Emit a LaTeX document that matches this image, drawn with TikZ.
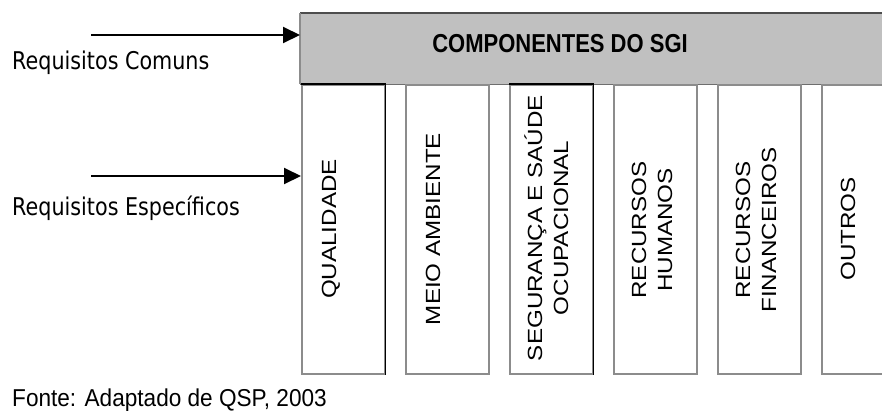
\documentclass[tikz,border=0pt]{standalone}
\usepackage{fontspec}
\setmainfont{Liberation Sans}
\newfontfamily\reqfont{DejaVu Sans}
\usetikzlibrary{arrows.meta}
\definecolor{hdrfill}{HTML}{C0C0C0}
\definecolor{hdrtop}{HTML}{4D4D4D}
\definecolor{hdrbottom}{HTML}{6E6E6E}
\definecolor{coledge}{HTML}{8C8C8C}
% vertical labels: stretched along the reading direction
\newcommand{\vlab}[1]{\scalebox{1.18}[1]{\begin{tabular}{@{}c@{}}#1\end{tabular}}}
% horizontal labels: stretched upwards
\newcommand{\hlab}[2][1.18]{\scalebox{1}[#1]{#2}}

\begin{document}
\begin{tikzpicture}[x=1pt,y=-1pt,
  colbox/.style={draw=coledge, line width=1.5pt, fill=white,
    minimum width=83pt, minimum height=289pt, anchor=north west, inner sep=0pt},
  collabel/.style={rotate=90, inner sep=0pt, font=\fontsize{20.5}{26}\selectfont},
  reqlabel/.style={anchor=base west, inner sep=0pt, font=\reqfont\fontsize{20.7}{24}\selectfont},
  feed/.style={line width=2pt, -{Triangle[length=17pt,width=16pt]}},
  strong/.style={draw=black, line width=1.6pt}]

\useasboundingbox (0,0) rectangle (882,410);
\clip (0,0) rectangle (882,410);

% header band
\node[fill=hdrfill, minimum width=640pt, minimum height=71pt,
      anchor=north west, inner sep=0pt] (hdr) at (300,13) {};
\draw[hdrtop, line width=2pt] (hdr.north west) -- (hdr.north east);
\draw[coledge, line width=1.5pt] (hdr.north west) -- (hdr.south west);
\draw[hdrbottom, line width=1.5pt] (hdr.south west) -- (hdr.south east);
\node[anchor=base, inner sep=0pt, font=\bfseries\fontsize{22}{26}\selectfont]
  (title) at (560,52) {\hlab{COMPONENTES DO SGI}};

% component columns
\node[colbox] (q) at (301,84) {};
\node[colbox] (m) at (405,84) {};
\node[colbox] (s) at (509,84) {};
\node[colbox] (h) at (613,84) {};
\node[colbox] (f) at (717,84) {};
\node[colbox] (o) at (821,84) {};
\draw[strong] (q.north west) -- (q.north east) -- (q.south east);
\draw[strong] (s.north west) -- (s.north east) -- (s.south east);

\node[collabel] (tq) at (331,229) {\vlab{QUALIDADE}};
\node[collabel] (tm) at (435,229) {\vlab{MEIO AMBIENTE}};
\node[collabel] (ts) at (550,228) {\vlab{SEGURANÇA E SAÚDE\\OCUPACIONAL}};
\node[collabel] (th) at (654,230) {\vlab{RECURSOS\\HUMANOS}};
\node[collabel] (tf) at (758,230) {\vlab{RECURSOS\\FINANCEIROS}};
\node[collabel] (to) at (850,229) {\vlab{OUTROS}};

% requirement inputs
\coordinate (c1) at (91,35);
\coordinate (c2) at (91,176);
\draw[feed] (c1) -- (c1 -| hdr.west);
\draw[feed] (c2) -- (c2 -| q.west);
\node[reqlabel] (rc) at (12,69) {\hlab{Requisitos Comuns}};
\node[reqlabel] (re) at (12,215) {\hlab{Requisitos Específicos}};

% source line
\node[anchor=base west, inner sep=0pt, font=\fontsize{22.6}{26}\selectfont]
  (src) at (12,406.5) {\hlab[1.08]{Fonte: Adaptado de QSP, 2003}};
\end{tikzpicture}
\end{document}
